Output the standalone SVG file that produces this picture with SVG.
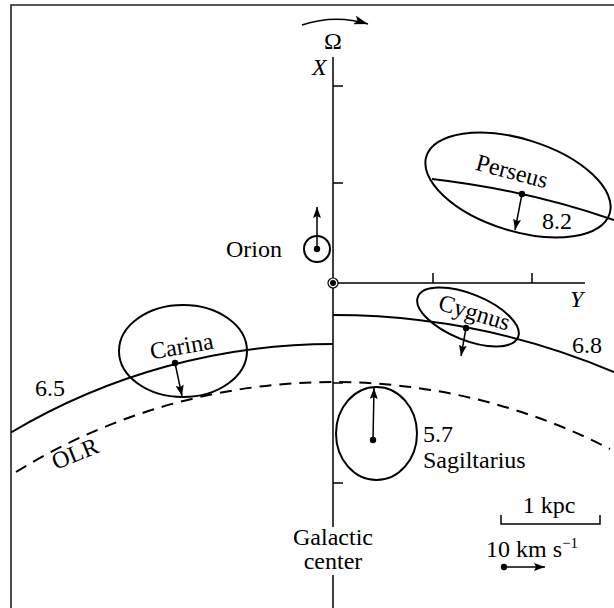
<svg xmlns="http://www.w3.org/2000/svg" width="614" height="608" viewBox="0 0 614 608" font-family="'Liberation Serif', 'DejaVu Serif', serif" font-size="24">
<style>
text{font-family:"Liberation Serif","DejaVu Serif",serif;font-size:24px;fill:#000}
.it{font-style:italic}
.ax{stroke:#000;stroke-width:1.5;fill:none}
.cv{stroke:#000;stroke-width:2;fill:none}
.dash{stroke:#000;stroke-width:2;fill:none;stroke-dasharray:12 8}
.el{stroke:#000;stroke-width:2;fill:none}
.vec{stroke:#000;stroke-width:1.5;fill:none;marker-end:url(#ah)}
.dot{fill:#000}
</style>
<defs>
<marker id="ah" markerWidth="12" markerHeight="8" refX="11" refY="4" orient="auto" markerUnits="userSpaceOnUse">
<path d="M0,0 L11,4 L0,8 L2,4 Z" fill="#000"/>
</marker>
<marker id="ahb" markerWidth="15" markerHeight="9" refX="14" refY="4.5" orient="auto" markerUnits="userSpaceOnUse">
<path d="M0,0 L14,4.5 L0,9 L3,4.5 Z" fill="#000"/>
</marker>
</defs>
<rect width="614" height="608" fill="#fff"/>
<path d="M11,608 V5 H614" stroke="#222" stroke-width="1.6" fill="none"/>

<g id="connectors">
<path class="ax" d="M333,57 V527 M333,575 V608"/>
<path class="ax" d="M333,283 H585"/>
<path class="ax" d="M333,86 H343 M333,183 H343 M333,383 H343 M333,483 H343"/>
<path class="ax" d="M433,283 V273 M532,283 V273"/>
<path d="M302,25 Q335,14 368,24" stroke="#000" stroke-width="1.5" fill="none" marker-end="url(#ahb)"/>
<path class="cv" d="M11,432.5 A630,630 0 0 1 333,344"/>
<path class="cv" d="M333,315 A721,721 0 0 1 614,372"/>
<path class="cv" d="M432,179 A864,864 0 0 1 614,220"/>
<path class="dash" d="M16,472 A605,605 0 0 1 610,449"/>
</g>

<g id="axes-labels">
<text x="333" y="49" text-anchor="middle">Ω</text>
<text class="it" x="312" y="75">X</text>
<text class="it" x="570" y="307">Y</text>
</g>

<g id="origin">
<circle cx="333" cy="283" r="5" fill="#fff" stroke="#000" stroke-width="1.2"/>
<circle cx="333" cy="283" r="3" class="dot"/>
</g>

<g id="orion">
<circle cx="317" cy="249" r="13" class="el" stroke-width="1.5"/>
<circle cx="317" cy="249" r="3.2" class="dot"/>
<line class="vec" x1="317" y1="249" x2="317" y2="207"/>
<text x="226" y="257">Orion</text>
</g>

<g id="perseus">
<ellipse cx="518" cy="185" rx="96" ry="46" transform="rotate(17.4 518 185)" class="el"/>
<circle cx="522" cy="194" r="3.2" class="dot"/>
<line class="vec" x1="522" y1="194" x2="515" y2="230"/>
<text x="510" y="179" text-anchor="middle" transform="rotate(15 510 179)">Perseus</text>
<text x="542" y="229">8.2</text>
</g>

<g id="cygnus">
<ellipse cx="468" cy="317" rx="54" ry="23" transform="rotate(22 468 317)" class="el"/>
<circle cx="466" cy="328" r="3.2" class="dot"/>
<line class="vec" x1="466" y1="328" x2="461" y2="356"/>
<text x="472" y="320" text-anchor="middle" transform="rotate(17 472 320)">Cygnus</text>
<text x="572" y="353">6.8</text>
</g>

<g id="carina">
<ellipse cx="183" cy="351" rx="64" ry="46" class="el"/>
<circle cx="175" cy="363" r="3.2" class="dot"/>
<line class="vec" x1="175" y1="363" x2="182" y2="396"/>
<text x="183" y="354" text-anchor="middle" transform="rotate(-10 183 354)">Carina</text>
<text x="35" y="396">6.5</text>
</g>

<g id="olr">
<text x="78" y="461" text-anchor="middle" transform="rotate(-22 78 461)">OLR</text>
</g>

<g id="sagittarius">
<ellipse cx="376.5" cy="433.5" rx="40.5" ry="46.5" class="el"/>
<circle cx="373" cy="440" r="3.2" class="dot"/>
<line class="vec" x1="373" y1="440" x2="374" y2="388"/>
<text x="423" y="442">5.7</text>
<text x="423" y="468">Sagiltarius</text>
</g>

<g id="galactic-center">
<text x="333" y="545" text-anchor="middle">Galactic</text>
<text x="333" y="569" text-anchor="middle">center</text>
</g>

<g id="scale">
<path class="ax" d="M501,515 V524 H600 V515"/>
<text x="549" y="513" text-anchor="middle">1 kpc</text>
<text x="486" y="557">10 km s<tspan font-size="15" dy="-9">−1</tspan></text>
<circle cx="504" cy="567" r="3.2" class="dot"/>
<line class="vec" x1="504" y1="567" x2="545" y2="567"/>
</g>
</svg>
